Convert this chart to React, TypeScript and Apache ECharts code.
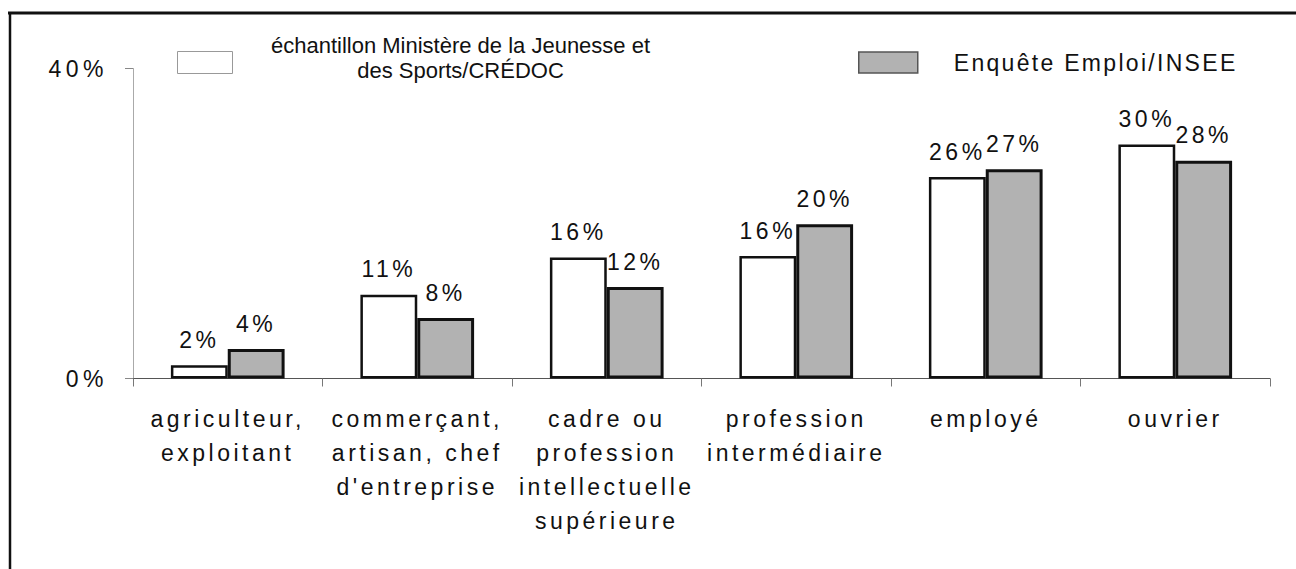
import React, { useEffect, useRef } from 'react';
import * as echarts from 'echarts';

const categories = [
  'agriculteur,\nexploitant',
  "commerçant,\nartisan, chef\nd'entreprise",
  'cadre ou\nprofession\nintellectuelle\nsupérieure',
  'profession\nintermédiaire',
  'employé',
  'ouvrier',
];
const seriesNames = [
  'échantillon Ministère de la Jeunesse et des Sports/CRÉDOC',
  'Enquête Emploi/INSEE',
];
const legendLines = ['échantillon Ministère de la Jeunesse et', 'des Sports/CRÉDOC'];
const sampleValues = [1.7, 10.8, 15.6, 15.8, 26.0, 30.2];
const inseeValues = [3.8, 7.8, 11.8, 19.9, 27.0, 28.1];
const yTickLabels = ['0%', '40%'];

const INK = '#111';
const FONT = 'Liberation Sans';
const FS = 23;

function spacingFor(t: string): number {
  if (legendLines.includes(t)) return 0;
  if (yTickLabels.includes(t)) return 4.5;
  if (/^\d+%$/.test(t)) return 3.5;
  if (t === seriesNames[1]) return 2.3;
  return 3.5;
}

export default function App() {
  const ref = useRef<HTMLDivElement>(null);
  useEffect(() => {
    if (!ref.current) return;
    const el = ref.current;
    const chart = echarts.init(el, undefined, { renderer: 'svg' });
    const barLabel = {
      show: true,
      position: 'top',
      distance: 14,
      fontSize: FS,
      color: INK,
      fontFamily: FONT,
      formatter: (p: any) => Math.round(p.value) + '%',
    };
    const option: any = {
      animation: false,
      textStyle: { fontFamily: FONT, color: INK },
      grid: { left: 133, right: 26, top: 68.5, bottom: 190.5 },
      legend: [
        {
          data: [seriesNames[0]],
          left: 172,
          top: 29,
          icon: 'rect',
          itemWidth: 55,
          itemHeight: 22,
          selectedMode: false,
          itemStyle: { borderWidth: 1, borderColor: '#999' },
          formatter: () => '{c|' + legendLines[0] + '}\n{c|' + legendLines[1] + '}',
          textStyle: {
            fontSize: 22,
            color: INK,
            fontFamily: FONT,
            padding: [0, 0, 10, 0],
            rich: { c: { width: 446, align: 'center', fontSize: 22, lineHeight: 25, fontFamily: FONT, color: INK } },
          },
        },
        {
          data: [seriesNames[1]],
          left: 853,
          top: 46,
          icon: 'rect',
          itemWidth: 59,
          itemHeight: 21,
          selectedMode: false,
          itemStyle: { borderWidth: 1.5, borderColor: '#555' },
          textStyle: { fontSize: FS, color: INK, fontFamily: FONT, padding: [0, 0, 0, 31] },
        },
      ],
      xAxis: {
        type: 'category',
        data: categories,
        axisLine: { lineStyle: { color: '#555', width: 1 } },
        axisTick: { show: true, length: 8, lineStyle: { color: '#777' } },
        axisLabel: { interval: 0, fontSize: FS, lineHeight: 34, margin: 23, color: INK, fontFamily: FONT },
      },
      yAxis: {
        type: 'value',
        min: 0,
        max: 40,
        interval: 40,
        splitLine: { show: false },
        axisLine: { show: true, lineStyle: { color: '#aaa', width: 1 } },
        axisTick: { show: true, length: 8, lineStyle: { color: '#888' } },
        axisLabel: { formatter: '{value}%', fontSize: FS, margin: 25, color: INK, fontFamily: FONT, padding: [6, 0, 0, 0] },
      },
      series: [
        {
          name: seriesNames[0],
          type: 'bar',
          data: sampleValues,
          barGap: '0%',
          barCategoryGap: '40%',
          itemStyle: { color: '#ffffff', borderColor: INK, borderWidth: 2.5 },
          label: barLabel,
        },
        {
          name: seriesNames[1],
          type: 'bar',
          data: inseeValues,
          itemStyle: { color: '#b2b2b2', borderColor: INK, borderWidth: 3 },
          label: barLabel,
        },
      ],
      graphic: [
        { type: 'line', shape: { x1: 8, y1: 13, x2: 1296, y2: 13 }, style: { stroke: INK, lineWidth: 3 } },
        { type: 'line', shape: { x1: 10, y1: 13, x2: 10, y2: 569 }, style: { stroke: INK, lineWidth: 2.5 } },
      ],
    };
    chart.setOption(option);
    const apply = () => {
      el.querySelectorAll('text').forEach((t) => {
        const s = spacingFor((t.textContent || '').trim());
        if (s > 0) t.setAttribute('letter-spacing', String(s));
      });
    };
    apply();
    chart.on('finished', apply);
    const raf = requestAnimationFrame(apply);
    const tm = setTimeout(apply, 50);
    return () => {
      cancelAnimationFrame(raf);
      clearTimeout(tm);
      chart.dispose();
    };
  }, []);
  return <div ref={ref} style={{ position: 'absolute', left: 0, top: 0, width: 1296, height: 569, background: '#fff' }} />;
}
